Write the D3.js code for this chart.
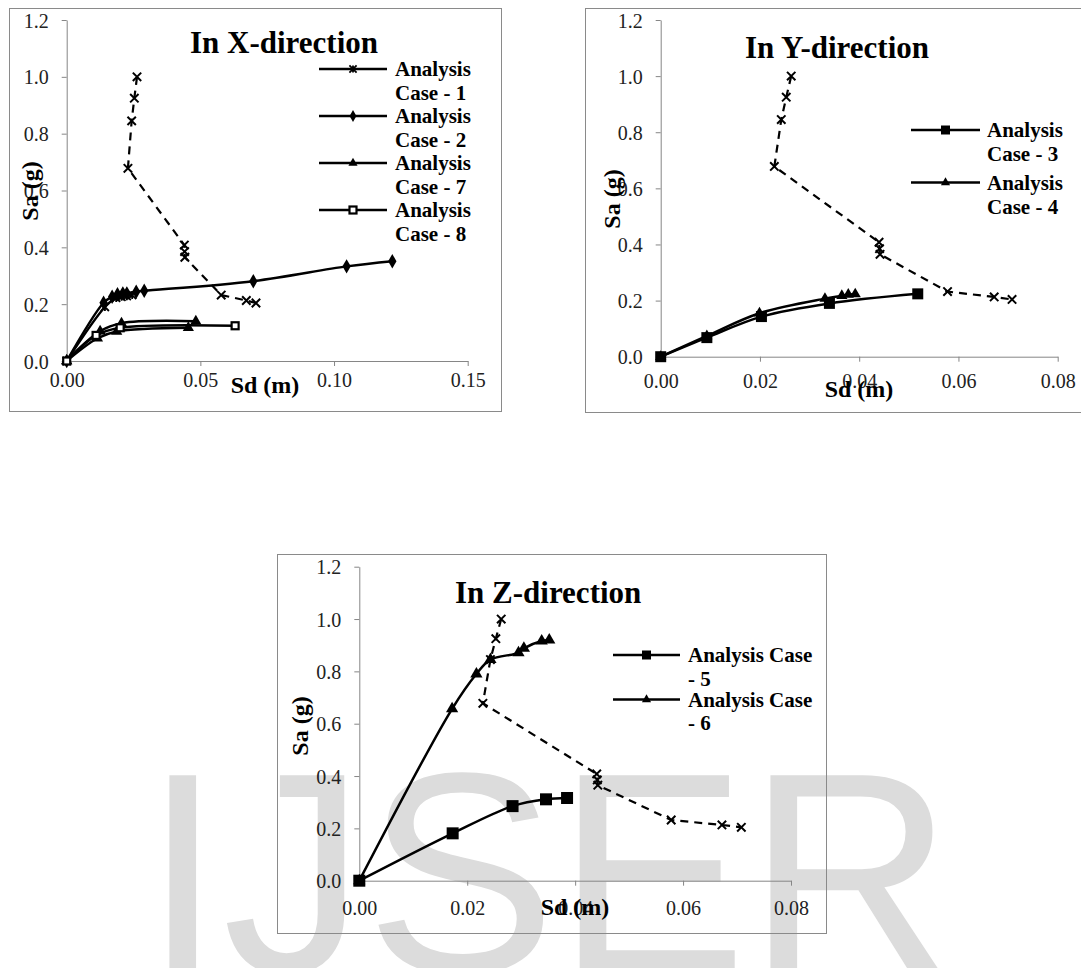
<!DOCTYPE html>
<html><head><meta charset="utf-8">
<script src="https://cdn.jsdelivr.net/npm/d3@7"></script>
<style>body{margin:0;background:#fff}svg{display:block}</style>
</head><body>
<svg id="c" width="1081" height="968"></svg>
<script>
// ---------------- DATA ----------------
const yTicks = [0, 0.2, 0.4, 0.6, 0.8, 1.0, 1.2];
const xTicksX = [0, 0.05, 0.10, 0.15];
const xTicksYZ = [0, 0.02, 0.04, 0.06, 0.08];

// demand spectrum (dashed) [Sd (m), Sa (g)]
const demand = [[0.0263,1.00],[0.0253,0.925],[0.0243,0.845],[0.0229,0.678],[0.0440,0.408],[0.0441,0.385],[0.0442,0.365],[0.0578,0.232],[0.0672,0.213],[0.0708,0.204]];

// X-direction
const case1 = [[0,0],[0.0143,0.19],[0.0185,0.222],[0.0205,0.226],[0.0225,0.228],[0.0245,0.232]];
const case2 = [[0,0],[0.0138,0.205],[0.017,0.226],[0.019,0.235],[0.021,0.238],[0.0225,0.238],[0.026,0.244],[0.029,0.247],[0.0698,0.281],[0.1047,0.333],[0.1218,0.351]];
const case7 = [[0,0],[0.0125,0.105],[0.0205,0.133],[0.0483,0.140]];
const case7b = [[0,0],[0.0115,0.08],[0.0187,0.104],[0.0455,0.117]];
const case8 = [[0,0],[0.011,0.09],[0.020,0.117],[0.063,0.124]];

// Y-direction
const case3 = [[0,0],[0.0093,0.068],[0.0203,0.143],[0.034,0.19],[0.0518,0.224]];
const case4 = [[0,0],[0.0093,0.074],[0.0199,0.155],[0.0331,0.207],[0.0365,0.217],[0.0378,0.222],[0.0392,0.223]];

// Z-direction
const case5 = [[0,0],[0.0173,0.181],[0.0284,0.285],[0.0346,0.311],[0.0385,0.316]];
const case6 = [[0,0],[0.0172,0.657],[0.0217,0.79],[0.0243,0.845],[0.0295,0.871],[0.0305,0.888],[0.0338,0.916],[0.0352,0.92]];

// ---------------- DRAWING ----------------
const svg = d3.select("#c");
const SERIF = "'Liberation Serif','Times New Roman',serif";

// watermark
svg.append("text").attr("x", 143).attr("y", 972)
  .attr("font-family", "'Liberation Sans',Arial,sans-serif")
  .attr("font-size", 286).attr("fill", "#dcdcdc").text("IJSER");

function marker(g, type, x, y, s) {
  s = s || 10;
  if (type === "x") {
    const h = s * 0.42;
    g.append("path").attr("d", `M${x-h},${y-h}L${x+h},${y+h}M${x-h},${y+h}L${x+h},${y-h}`)
      .attr("stroke", "#000").attr("stroke-width", 2).attr("fill", "none");
  } else if (type === "ast") {
    const h = s * 0.4;
    g.append("path").attr("d", `M${x-h},${y-h}L${x+h},${y+h}M${x-h},${y+h}L${x+h},${y-h}M${x},${y-h}L${x},${y+h}`)
      .attr("stroke", "#000").attr("stroke-width", 1.8).attr("fill", "none");
  } else if (type === "hsq") {
    g.append("rect").attr("x", x - s/2).attr("y", y - s/2).attr("width", s).attr("height", s)
      .attr("fill", "#fff").attr("stroke", "#000").attr("stroke-width", 2.2);
  } else {
    const t = {diamond: d3.symbolDiamond, tri: d3.symbolTriangle, sq: d3.symbolSquare}[type];
    const area = type === "diamond" ? s*s*0.5 : (type === "tri" ? s*s*0.45 : s*s);
    g.append("path").attr("d", d3.symbol().type(t).size(area)())
      .attr("transform", `translate(${x},${y})`).attr("fill", "#000");
  }
}

function drawChart(cfg) {
  const g = svg.append("g");
  g.append("rect").attr("x", cfg.frame[0] + 0.5).attr("y", cfg.frame[1] + 0.5)
    .attr("width", cfg.frame[2] - cfg.frame[0]).attr("height", cfg.frame[3] - cfg.frame[1])
    .attr("fill", "none").attr("stroke", "#8a8a8a").attr("stroke-width", 1);

  const x = d3.scaleLinear().domain(cfg.xDomain).range(cfg.xRange);
  const y = d3.scaleLinear().domain([0, 1.2]).range(cfg.yRange);

  const ya = g.append("g").attr("transform", `translate(${cfg.xRange[0]},0)`)
    .call(d3.axisLeft(y).tickValues(yTicks).tickFormat(d3.format(".1f")).tickSize(5).tickSizeOuter(0));
  ya.attr("font-family", SERIF);
  ya.select(".domain").attr("stroke", "#868686");
  ya.selectAll(".tick line").attr("stroke", "#868686");
  ya.selectAll(".tick text").attr("x", -18).attr("dy", "0.35em")
    .attr("font-family", SERIF).attr("font-size", 20).attr("fill", "#222");

  const xa = g.append("g").attr("transform", `translate(0,${cfg.yRange[0]})`)
    .call(d3.axisBottom(x).tickValues(cfg.xTicks).tickFormat(d3.format(".2f")).tickSize(5).tickSizeOuter(0));
  xa.attr("font-family", SERIF);
  xa.select(".domain").attr("stroke", "#868686");
  xa.selectAll(".tick line").attr("stroke", "#868686");
  xa.selectAll(".tick text").attr("y", cfg.xLabOff).attr("dy", 0)
    .attr("font-family", SERIF).attr("font-size", 20).attr("fill", "#222");

  g.append("text").attr("x", cfg.title[1]).attr("y", cfg.title[2])
    .attr("font-family", SERIF).attr("font-weight", "bold").attr("font-size", 31)
    .text(cfg.title[0]);

  g.append("text").attr("x", cfg.xTitle[0]).attr("y", cfg.xTitle[1]).attr("text-anchor", "middle")
    .attr("font-family", SERIF).attr("font-weight", "bold").attr("font-size", 24).text("Sd (m)");
  g.append("text").attr("transform", `translate(${cfg.yTitle[0]},${cfg.yTitle[1]}) rotate(-90)`)
    .attr("text-anchor", "middle").attr("font-family", SERIF).attr("font-weight", "bold")
    .attr("font-size", 24).text("Sa (g)");

  const smooth = d3.line().x(d => x(d[0])).y(d => y(d[1])).curve(d3.curveCatmullRom.alpha(0.5));
  const straight = d3.line().x(d => x(d[0])).y(d => y(d[1]));

  cfg.series.forEach(s => {
    g.append("path").attr("d", (s.dash ? straight : smooth)(s.data)).attr("fill", "none").attr("stroke", "#000")
      .attr("stroke-width", s.dash ? 2.2 : 2.5).attr("stroke-dasharray", s.dash ? "8,6" : null);
    s.data.forEach(d => marker(g, s.mark, x(d[0]), y(d[1]), s.size));
  });

  cfg.legend.forEach((e, i) => {
    const ly = cfg.legPos.y0 + i * cfg.legPos.dy;
    g.append("line").attr("x1", cfg.legPos.x1).attr("x2", cfg.legPos.x2).attr("y1", ly).attr("y2", ly)
      .attr("stroke", "#000").attr("stroke-width", 2.6);
    marker(g, e.mark, (cfg.legPos.x1 + cfg.legPos.x2) / 2, ly, e.mark === "hsq" ? 7 : 9);
    e.lines.forEach((t, j) => {
      g.append("text").attr("x", cfg.legPos.tx).attr("y", ly + 7 + j * cfg.legPos.lh)
        .attr("font-family", SERIF).attr("font-weight", "bold").attr("font-size", 21).text(t);
    });
  });
}

drawChart({
  frame: [9, 8, 501, 411],
  xDomain: [0, 0.15], xRange: [66.7, 467.7], yRange: [361, 20], xTicks: xTicksX, xLabOff: 26,
  title: ["In X-direction", 190, 53],
  xTitle: [265, 393], yTitle: [38, 191],
  series: [
    {data: demand, mark: "x", dash: true, size: 10},
    {data: case1, mark: "ast", size: 10},
    {data: case2, mark: "diamond", size: 11},
    {data: case7, mark: "tri", size: 11},
    {data: case7b, mark: "tri", size: 11},
    {data: case8, mark: "hsq", size: 7}
  ],
  legPos: {x1: 319, x2: 387, tx: 395, y0: 69, dy: 47, lh: 23.5},
  legend: [
    {mark: "ast", lines: ["Analysis", "Case - 1"]},
    {mark: "diamond", lines: ["Analysis", "Case - 2"]},
    {mark: "tri", lines: ["Analysis", "Case - 7"]},
    {mark: "hsq", lines: ["Analysis", "Case - 8"]}
  ]
});

drawChart({
  frame: [585, 8, 1095, 412],
  xDomain: [0, 0.08], xRange: [660.7, 1057.7], yRange: [356.7, 20], xTicks: xTicksYZ, xLabOff: 31,
  title: ["In Y-direction", 745, 58],
  xTitle: [859, 397], yTitle: [620, 199],
  series: [
    {data: demand, mark: "x", dash: true, size: 10},
    {data: case3, mark: "sq", size: 11},
    {data: case4, mark: "tri", size: 11}
  ],
  legPos: {x1: 911, x2: 980, tx: 987, y0: 130, dy: 52.5, lh: 24},
  legend: [
    {mark: "sq", lines: ["Analysis", "Case - 3"]},
    {mark: "tri", lines: ["Analysis", "Case - 4"]}
  ]
});

drawChart({
  frame: [277, 554, 826, 933],
  xDomain: [0, 0.08], xRange: [359.3, 791], yRange: [880.7, 566.7], xTicks: xTicksYZ, xLabOff: 34,
  title: ["In Z-direction", 455, 603],
  xTitle: [575, 915], yTitle: [308, 726],
  series: [
    {data: demand, mark: "x", dash: true, size: 10},
    {data: case5, mark: "sq", size: 12},
    {data: case6, mark: "tri", size: 12}
  ],
  legPos: {x1: 613, x2: 680, tx: 688, y0: 655, dy: 44.5, lh: 23.5},
  legend: [
    {mark: "sq", lines: ["Analysis Case", "- 5"]},
    {mark: "tri", lines: ["Analysis Case", "- 6"]}
  ]
});
</script>
</body></html>
